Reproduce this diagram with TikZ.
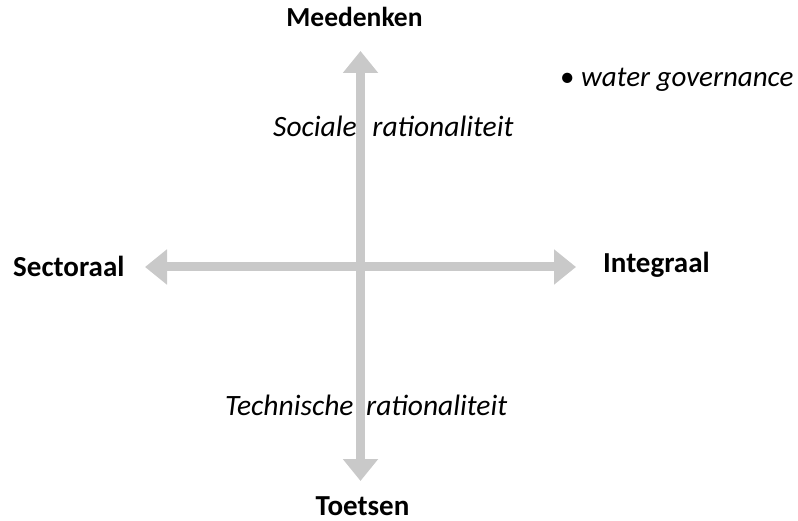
\documentclass[tikz,border=0pt]{standalone}
\usepackage{fontspec}
\setmainfont{Carlito}
\usetikzlibrary{arrows.meta}
\definecolor{axisgray}{RGB}{201,201,201}
\begin{document}
\begin{tikzpicture}[x=1pt,y=-1pt,
  lbl/.style={inner sep=0pt,font=\fontsize{29}{34}\selectfont\bfseries},
  itl/.style={inner sep=0pt,font=\fontsize{29.5}{35}\selectfont\itshape},
  axis/.style={draw=axisgray,line width=9pt,{Triangle[width=34pt,length=22pt]}-{Triangle[width=34pt,length=22pt]}}]
\useasboundingbox (0,0) rectangle (798,521);
\node[itl,anchor=base west] (soc) at (273,137) {Sociale\hspace{9pt} rationaliteit};
\node[itl,anchor=base west] (tech) at (225,415) {Technische\hspace{6pt} rationaliteit};
\coordinate (top) at (360.5,51);
\coordinate (bot) at (360.5,481);
\coordinate (lft) at (145,267);
\coordinate (rgt) at (576,267);
\draw[axis] (lft) -- (rgt);
\draw[axis] (bot) -- (top);
\node[lbl,anchor=base,font=\fontsize{27.5}{33}\selectfont\bfseries] (mee) at (354.5,27) {Meedenken};
\node[lbl,anchor=base] (toe) at (362.5,515) {Toetsen};
\node[lbl,anchor=base west] (sec) at (13,277) {Sectoraal};
\node[lbl,anchor=base west] (int) at (603,273) {Integraal};
\node[itl,anchor=base west,font=\fontsize{29}{34}\selectfont\itshape] (wg) at (560,87) {\upshape•\itshape\ water governance};
\end{tikzpicture}
\end{document}
